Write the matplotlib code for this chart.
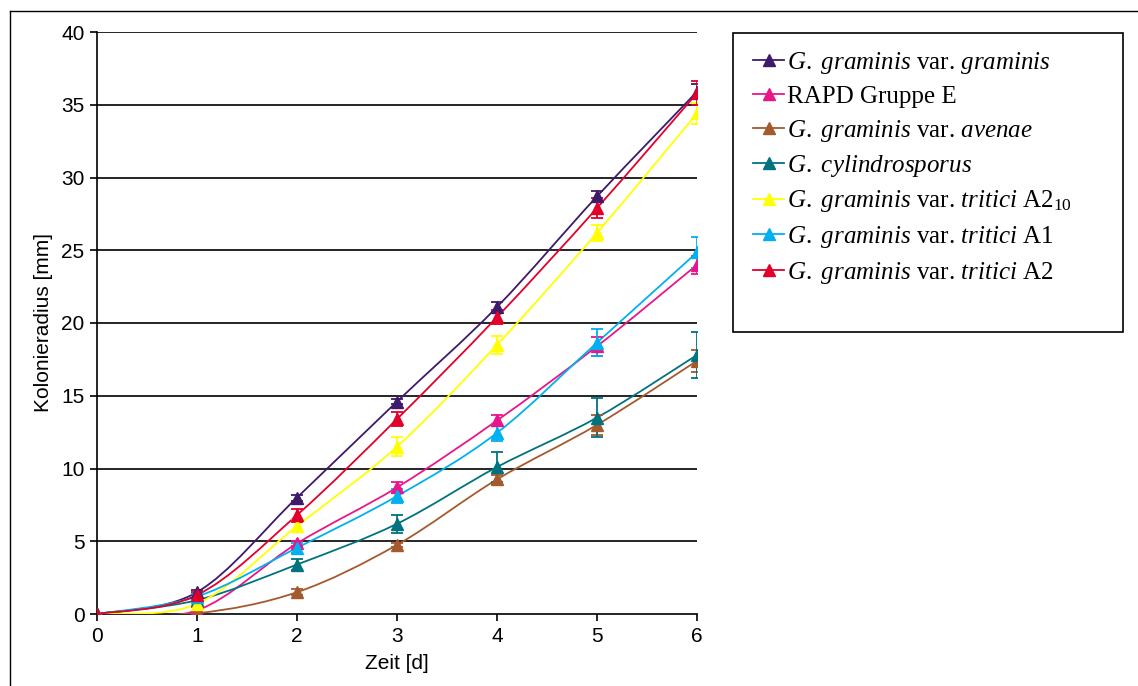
import numpy as np
import matplotlib
matplotlib.use("Agg")
import matplotlib.pyplot as plt
from matplotlib.path import Path
from matplotlib.patches import PathPatch, Rectangle
from matplotlib.lines import Line2D

plt.rcParams['font.family'] = ['Liberation Sans', 'DejaVu Sans']
plt.rcParams['mathtext.fontset'] = 'custom'
plt.rcParams['mathtext.rm'] = 'Liberation Serif'
plt.rcParams['mathtext.it'] = 'Liberation Serif:italic'

days = [0, 1, 2, 3, 4, 5, 6]

# mean colony radius [mm] and error per strain
gg_mean = [0, 1.5, 8.0, 14.6, 21.1, 28.7, 35.9]
gg_err = [0, 0.15, 0.2, 0.2, 0.35, 0.35, 0.5]
rapd_mean = [0, 0.25, 4.85, 8.7, 13.3, 18.4, 24.0]
rapd_err = [0, 0.2, 0.2, 0.35, 0.4, 0.65, 0.6]
gga_mean = [0, 0.05, 1.5, 4.75, 9.25, 13.0, 17.4]
gga_err = [0, 0.1, 0.2, 0.15, 0.3, 0.7, 0.75]
cyl_mean = [0, 0.95, 3.4, 6.2, 10.1, 13.5, 17.8]
cyl_err = [0, 0.15, 0.35, 0.6, 1.0, 1.35, 1.55]
a210_mean = [0, 0.7, 6.05, 11.5, 18.5, 26.2, 34.4]
a210_err = [0, 0.15, 0.4, 0.65, 0.6, 0.55, 0.7]
a1_mean = [0, 1.2, 4.55, 8.1, 12.45, 18.65, 24.85]
a1_err = [0, 0.15, 0.35, 0.5, 0.55, 0.95, 1.05]
a2_mean = [0, 1.3, 6.8, 13.4, 20.4, 27.9, 35.8]
a2_err = [0, 0.2, 0.45, 0.5, 0.5, 0.7, 0.8]

labels = [
    r'$\mathit{G.\ graminis}$ var. $\mathit{graminis}$',
    'RAPD Gruppe E',
    r'$\mathit{G.\ graminis}$ var. $\mathit{avenae}$',
    r'$\mathit{G.\ cylindrosporus}$',
    r'$\mathit{G.\ graminis}$ var. $\mathit{tritici}$ A2$_{\mathrm{10}}$',
    r'$\mathit{G.\ graminis}$ var. $\mathit{tritici}$ A1',
    r'$\mathit{G.\ graminis}$ var. $\mathit{tritici}$ A2',
]
colors = ['#3d1a6b', '#e8168a', '#a55a2e', '#00737f', '#ffff00', '#00b0f0', '#e2002b']

series = [
    (gg_mean, gg_err), (rapd_mean, rapd_err), (gga_mean, gga_err),
    (cyl_mean, cyl_err), (a210_mean, a210_err), (a1_mean, a1_err),
    (a2_mean, a2_err),
]


def smooth_path(x, y):
    # excel-like smoothed line: cubic bezier through the points
    pts = np.column_stack([x, y]).astype(float)
    n = len(pts)
    verts = [pts[0]]
    codes = [Path.MOVETO]
    for i in range(n - 1):
        p0 = pts[i - 1] if i > 0 else pts[i]
        p1 = pts[i]
        p2 = pts[i + 1]
        p3 = pts[i + 2] if i + 2 < n else pts[i + 1]
        c1 = p1 + (p2 - p0) / 6.0
        c2 = p2 - (p3 - p1) / 6.0
        verts += [c1, c2, p2]
        codes += [Path.CURVE4] * 3
    return Path(verts, codes)


fig = plt.figure(figsize=(11.38, 6.86), dpi=100)
ax = fig.add_axes([97 / 1138, 1 - 614 / 686, 600 / 1138, 582 / 686])

handles = []
for (m, e), c, lab in zip(series, colors, labels):
    ax.add_patch(PathPatch(smooth_path(days, m), fill=False, edgecolor=c,
                           linewidth=1.3, zorder=3))
    ax.errorbar(days, m, yerr=e, fmt='none', ecolor=c, elinewidth=1.3,
                capsize=4, capthick=1.3, zorder=4)
    ax.plot(days, m, linestyle='none', marker='^', markersize=9, color=c, zorder=5)
    handles.append(Line2D([], [], color=c, linewidth=1.3, marker='^', markersize=8))

ax.set_xlim(0, 6)
ax.set_ylim(0, 40)
ax.set_xticks(days)
ax.set_yticks(np.arange(0, 41, 5))
for yv in np.arange(5, 41, 5):
    ax.axhline(yv, color='black', linewidth=1.2, zorder=1)
for s in ['top', 'right']:
    ax.spines[s].set_visible(False)
for s in ['left', 'bottom']:
    ax.spines[s].set_linewidth(1.2)
ax.tick_params(direction='out', length=5, width=1.2, labelsize=15, pad=4)
ax.set_xlabel('Zeit [d]', fontsize=15, labelpad=6)
ax.set_ylabel('Kolonieradius [mm]', fontsize=15, labelpad=6)

# legend box
fig.add_artist(Rectangle((733 / 1138, 1 - 332 / 686), 390 / 1138, 299 / 686,
                         transform=fig.transFigure, fill=False,
                         edgecolor='black', linewidth=1.2))
leg = fig.legend(handles, labels, loc='upper left',
                 bbox_to_anchor=(753 / 1138, 1 - 50 / 686),
                 frameon=False, prop={'family': 'Liberation Serif', 'size': 18},
                 handlelength=1.25, handletextpad=0.12, labelspacing=0.38,
                 borderaxespad=0, borderpad=0)

# outer frame (left and top edges visible)
fig.add_artist(Line2D([10 / 1138, 10 / 1138], [0, 1 - 11 / 686],
                      transform=fig.transFigure, color='black', linewidth=1))
fig.add_artist(Line2D([10 / 1138, 1], [1 - 11 / 686, 1 - 11 / 686],
                      transform=fig.transFigure, color='black', linewidth=1))

fig.savefig('out.png', dpi=100)
